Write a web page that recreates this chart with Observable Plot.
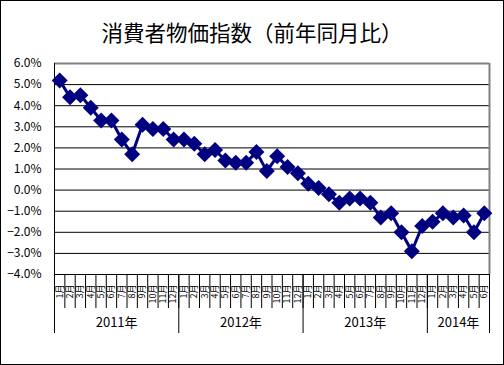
<!DOCTYPE html>
<html><head><meta charset="utf-8">
<script src="https://cdn.jsdelivr.net/npm/d3@7"></script>
<script src="https://cdn.jsdelivr.net/npm/@observablehq/plot@0.6"></script>
<style>
body{margin:0;background:#fff;}
#chart{width:502px;height:363px;border:1px solid #000;background:#fff;overflow:hidden;}
#title{height:49px;box-sizing:border-box;padding-top:19px;line-height:24px;text-align:center;font-family:"Noto Sans CJK JP",sans-serif;font-size:21.5px;color:#000;}
#chart svg{display:block;}
</style></head><body>
<div id="chart"><div id="title">消費者物価指数（前年同月比）</div></div>
<script>
const years = ["2011年", "2012年", "2013年", "2014年"];
const monthsPerYear = [12, 12, 12, 6];
const cpi2011 = [5.2, 4.4, 4.5, 3.9, 3.3, 3.3, 2.4, 1.7, 3.1, 2.9, 2.9, 2.4];
const cpi2012 = [2.4, 2.2, 1.7, 1.9, 1.4, 1.3, 1.3, 1.8, 0.9, 1.6, 1.1, 0.8];
const cpi2013 = [0.3, 0.1, -0.2, -0.6, -0.4, -0.4, -0.6, -1.3, -1.1, -2.0, -2.9, -1.7];
const cpi2014 = [-1.5, -1.1, -1.3, -1.2, -2.0, -1.1];
const yTicks = [-4, -3, -2, -1, 0, 1, 2, 3, 4, 5, 6];

const values = [...cpi2011, ...cpi2012, ...cpi2013, ...cpi2014];
const data = values.map((v, i) => ({i, v}));
const n = values.length;
const monthLabels = [];
const yearStarts = [];
{
  let acc = 0;
  years.forEach((y, k) => {
    yearStarts.push(acc);
    for (let m = 1; m <= monthsPerYear[k]; m++) monthLabels.push(m + "月");
    acc += monthsPerYear[k];
  });
}
const boundaries = d3.range(n + 1).map(i => i - 0.5);
const yearEdges = [...yearStarts.map(s => s - 0.5), n - 0.5];
const yearMids = yearStarts.map((s, k) => s + monthsPerYear[k] / 2 - 0.5);
const fmtPct = d => (d < 0 ? "−" : "") + Math.abs(d).toFixed(1) + "%";

const diamond = {
  draw(ctx, size) {
    const h = Math.sqrt(size / Math.PI);
    ctx.moveTo(0, -h); ctx.lineTo(h, 0); ctx.lineTo(0, h); ctx.lineTo(-h, 0); ctx.closePath();
  }
};

const chart = Plot.plot({
  width: 502,
  height: 314,
  marginTop: 13,
  marginBottom: 90,
  marginLeft: 53,
  marginRight: 14,
  style: {fontFamily: '"Noto Sans CJK JP", sans-serif', color: "#000", background: "#fff"},
  x: {domain: [-0.5, n - 0.5], label: null},
  y: {domain: [-4, 6], label: null},
  marks: [
    Plot.ruleY(yTicks.filter(d => d < 6), {stroke: "#000", strokeWidth: 1}),
    Plot.ruleY([6], {stroke: "#808080", strokeWidth: 2}),
    Plot.ruleX([n - 0.5], {stroke: "#808080", strokeWidth: 2}),
    Plot.ruleX([-0.5], {stroke: "#000", strokeWidth: 1}),
    Plot.axisY(yTicks, {tickSize: 0, tickPadding: 13, tickFormat: fmtPct, fontSize: 12}),
    Plot.axisX(boundaries, {tickSize: 34, tickFormat: () => "", stroke: "#000"}),
    Plot.axisX(yearEdges, {tickSize: 59, tickFormat: () => "", stroke: "#000"}),
    Plot.axisX(d3.range(n), {tickSize: 0, tickPadding: 10, tickRotate: -90, tickFormat: i => monthLabels[i], fontSize: 9}),
    Plot.axisX(yearMids, {tickSize: 0, tickPadding: 43, tickFormat: (d, k) => years[k], fontSize: 13}),
    Plot.line(data, {x: "i", y: "v", stroke: "#000080", strokeWidth: 3}),
    Plot.dot(data, {x: "i", y: "v", symbol: diamond, r: 8, fill: "#000080", stroke: "none"})
  ]
});
document.getElementById("chart").appendChild(chart);
</script>
</body></html>
